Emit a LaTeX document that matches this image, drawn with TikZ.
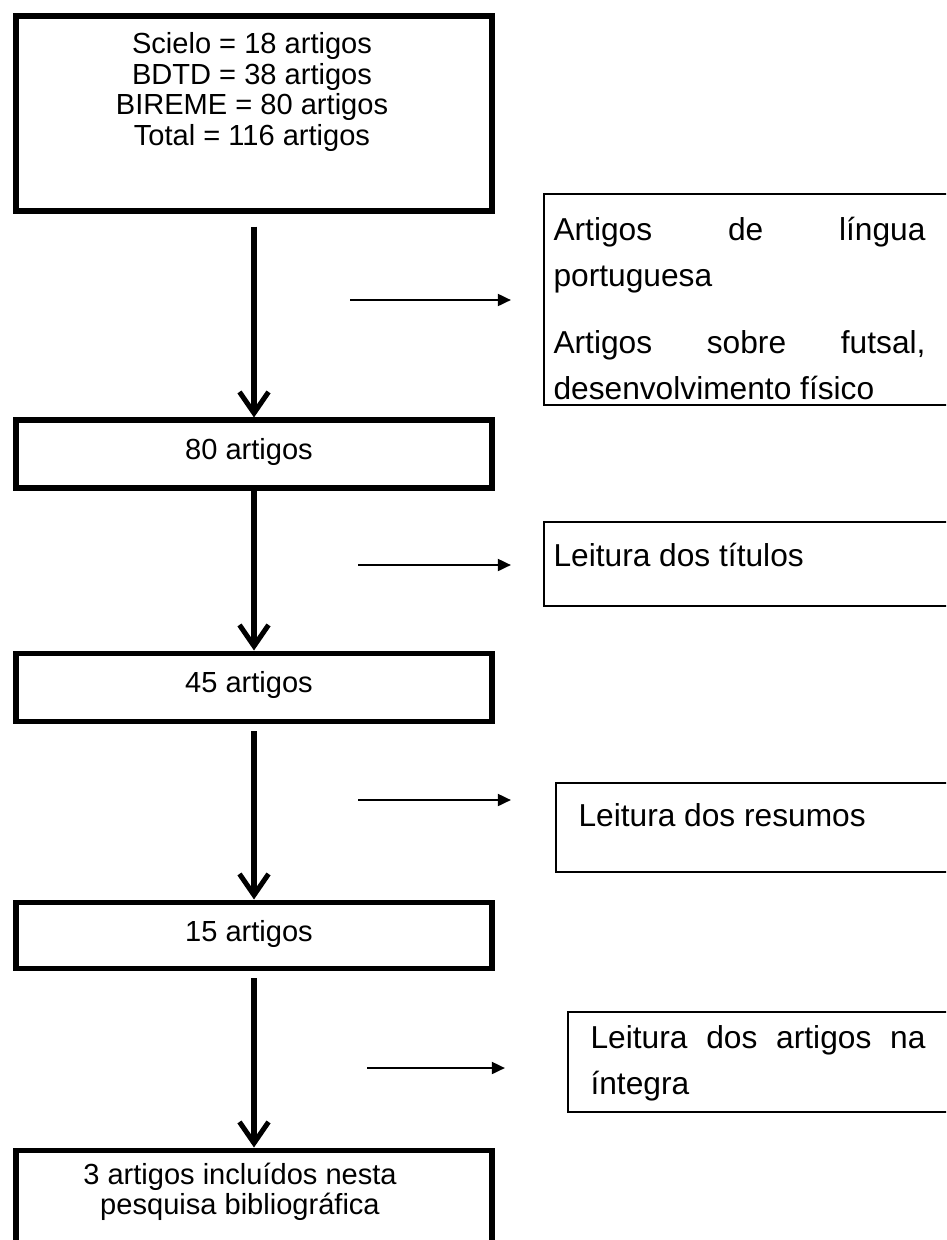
\documentclass[tikz,border=0pt]{standalone}
\usepackage{fontspec}
\setmainfont{Liberation Sans}
\usetikzlibrary{arrows.meta,fit}
\begin{document}
\begin{tikzpicture}[x=0.3785pt,y=-0.3785pt,
  lbox/.style={draw, line width=1.9pt, inner sep=0pt},
  rbox/.style={draw, line width=0.7pt, inner sep=0pt},
  ltext/.style={font=\fontsize{11}{11.55}\selectfont, align=center, inner sep=0pt},
  rtext/.style={font=\fontsize{12}{17.4}\selectfont, align=left, inner sep=0pt},
  varrow/.style={line width=1.9pt, -{Straight Barb[length=8pt,width=11pt]}},
  harrow/.style={line width=0.95pt, -{Triangle[length=5pt,width=4.5pt]}}]
\useasboundingbox (0,0) rectangle (946,1240);
\clip (0,0) rectangle (946,1240);
% left column boxes
\node[lbox, fit={(16,16) (492,211)}] (b1) {};
\node[ltext] (t1) at (252,92) {Scielo = 18 artigos\\BDTD = 38 artigos\\BIREME = 80 artigos\\Total = 116 artigos};
\node[lbox, fit={(16,420) (492,488)}] (b2) {};
\node[ltext] (t2) at (249,452) {80 artigos};
\node[lbox, fit={(16,653) (492,721)}] (b3) {};
\node[ltext] (t3) at (249,685) {45 artigos};
\node[lbox, fit={(16,902) (492,968)}] (b4) {};
\node[ltext] (t4) at (249,934) {15 artigos};
\node[lbox, fit={(16,1150) (492,1260)}] (b5) {};
\node[ltext] (t5) at (240,1192) {3 artigos incluídos nesta\\pesquisa bibliográfica};
% right column boxes
\node[rbox, fit={(544,194) (990,405)}] (r1) {};
\node[rtext, anchor=north west] (s1) at (553,217) {\makebox[140.8pt][s]{Artigos de língua}\\portuguesa\\[8pt]\makebox[140.8pt][s]{Artigos sobre futsal,}\\desenvolvimento físico};
\node[rbox, fit={(544,522) (990,606)}] (r2) {};
\node[rtext, anchor=west] (s2) at (553,555) {Leitura dos títulos};
\node[rbox, fit={(556,783) (990,872)}] (r3) {};
\node[rtext, anchor=west] (s3) at (578,815) {Leitura dos resumos};
\node[rbox, fit={(568,1012) (990,1112)}] (r4) {};
\node[rtext, anchor=north west] (s4) at (590,1025) {\makebox[126.8pt][s]{Leitura dos artigos na}\\íntegra};
% vertical arrows
\draw[varrow] ([yshift=-5pt]b1.south) -- (b2.north);
\draw[varrow] (b2.south) -- (b3.north);
\draw[varrow] ([yshift=-3pt]b3.south) -- (b4.north);
\draw[varrow] ([yshift=-3pt]b4.south) -- (b5.north);
% horizontal arrows
\coordinate (h1a) at (350,300); \coordinate (h1b) at (511,300);
\coordinate (h2a) at (358,565); \coordinate (h2b) at (511,565);
\coordinate (h3a) at (358,800); \coordinate (h3b) at (511,800);
\coordinate (h4a) at (367,1068); \coordinate (h4b) at (505,1068);
\draw[harrow] (h1a) -- (h1b);
\draw[harrow] (h2a) -- (h2b);
\draw[harrow] (h3a) -- (h3b);
\draw[harrow] (h4a) -- (h4b);
\end{tikzpicture}
\end{document}
